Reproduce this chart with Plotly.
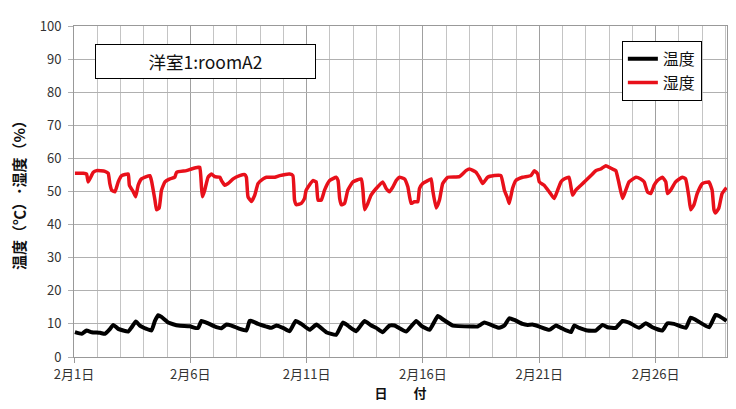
import plotly.graph_objects as go

# day offsets from 2月1日 00:00 (in days) and values
hum_day = [0.04, 0.40, 0.54, 0.61, 0.83, 0.97, 1.33, 1.47, 1.54, 1.62, 1.76, 1.90, 2.05, 2.33, 2.38, 2.55, 2.65, 2.76, 2.90,
           3.26, 3.33, 3.48, 3.55, 3.66, 3.76, 3.91, 4.12, 4.33, 4.41, 4.83, 5.05, 5.34, 5.41, 5.48, 5.52, 5.62, 5.76, 5.91,
           6.05, 6.27, 6.34, 6.48, 6.62, 6.84, 7.12, 7.34, 7.41, 7.48, 7.63, 7.77, 7.91, 8.13, 8.27, 8.63, 8.84, 9.27, 9.41,
           9.48, 9.56, 9.77, 9.91, 9.98, 10.27, 10.41, 10.49, 10.63, 10.77, 10.99, 11.27, 11.35, 11.42, 11.49, 11.63, 11.77,
           11.99, 12.35, 12.42, 12.49, 12.63, 12.77, 12.99, 13.27, 13.42, 13.56, 13.71, 13.85, 13.99, 14.21, 14.35, 14.49,
           14.63, 14.78, 14.85, 14.99, 15.21, 15.35, 15.42, 15.57, 15.71, 15.85, 16.07, 16.57, 16.85, 17.00, 17.28, 17.42,
           17.57, 17.78, 18.07, 18.35, 18.50, 18.64, 18.71, 18.85, 18.99, 19.28, 19.64, 19.79, 19.93, 20.00, 20.21, 20.43,
           20.64, 20.79, 20.93, 21.07, 21.28, 21.43, 21.57, 21.79, 22.00, 22.29, 22.43, 22.64, 22.86, 23.15, 23.29, 23.43,
           23.58, 23.72, 23.86, 24.15, 24.36, 24.51, 24.65, 24.79, 24.94, 25.08, 25.29, 25.44, 25.51, 25.65, 25.86, 26.15,
           26.29, 26.43, 26.51, 26.65, 26.79, 27.01, 27.29, 27.43, 27.51, 27.58, 27.72, 27.86, 28.05]
hum_val = [55.5, 55.5, 55.3, 52.9, 55.8, 56.3, 56.1, 55.5, 52.4, 50.4, 49.9, 52.9, 54.8, 55.3, 51.9, 49.9, 48.4, 51.9, 53.8,
           54.8, 53.3, 47.4, 44.5, 45.0, 50.4, 52.9, 53.8, 54.3, 55.8, 56.3, 56.8, 57.3, 57.3, 51.4, 48.4, 50.4, 54.3, 55.3,
           54.5, 54.3, 53.3, 51.9, 52.4, 53.8, 54.8, 55.1, 54.3, 48.4, 47.0, 48.9, 52.4, 53.8, 54.3, 54.3, 54.8, 55.3, 54.8,
           47.4, 46.0, 46.4, 47.9, 50.4, 53.3, 52.9, 47.4, 47.4, 50.4, 53.3, 54.3, 53.3, 47.9, 46.0, 46.4, 50.4,
           52.9, 53.8, 50.4, 44.5, 46.4, 48.9, 50.9, 52.9, 50.9, 49.9, 51.4, 53.3, 54.3, 53.8, 51.4, 46.4,
           46.9, 46.9, 50.9, 52.4, 53.3, 53.8, 50.4, 45.0, 47.4, 52.4, 54.3, 54.5, 56.3, 56.8, 55.8, 54.3,
           52.4, 54.3, 54.8, 54.8, 50.4, 47.9, 46.4, 50.9, 53.3, 54.3, 54.8, 56.3, 55.3, 52.9, 51.9, 49.9,
           47.9, 50.4, 52.9, 53.8, 54.3, 48.9, 50.4, 51.9, 53.3, 55.3, 56.3, 56.8, 57.8, 56.8, 56.3, 52.4,
           47.9, 50.4, 52.9, 54.3, 53.8, 52.9, 49.9, 49.4, 51.9, 53.3, 54.3, 52.9, 49.4, 50.4, 52.9, 54.3,
           53.8, 48.4, 44.5, 46.0, 49.4, 52.4, 52.9, 50.4, 44.5, 43.5, 45.0, 49.4, 51.2]

tmp_day = [0.04, 0.33, 0.54, 0.76, 1.12, 1.33, 1.55, 1.69, 1.90, 2.33, 2.48, 2.66, 2.83, 3.12, 3.33, 3.48, 3.62, 3.76,
           4.05, 4.48, 4.98, 5.19, 5.34, 5.48, 5.69, 6.12, 6.34, 6.55, 6.77, 7.12, 7.41, 7.55, 7.63, 7.91, 8.27, 8.48,
           8.70, 8.98, 9.27, 9.53, 9.77, 10.13, 10.42, 10.84, 11.27, 11.56, 11.77, 12.13, 12.49, 12.78, 12.99, 13.27,
           13.56, 13.78, 14.28, 14.71, 14.92, 15.28, 15.64, 15.85, 16.28, 17.14, 17.35, 17.64, 18.00, 18.28, 18.50,
           18.71, 18.93, 19.28, 19.50, 19.71, 20.00, 20.43, 20.72, 20.93, 21.36, 21.50, 21.72, 22.07, 22.43, 22.72,
           22.93, 23.29, 23.58, 23.86, 24.29, 24.58, 24.86, 25.29, 25.51, 25.79, 26.30, 26.51, 26.73, 27.30, 27.58,
           27.73, 28.05]
tmp_val = [7.5, 7.0, 8.0, 7.5, 7.3, 7.0, 8.5, 9.7, 8.5, 7.7, 9.0, 10.7, 9.5, 8.5, 8.0, 10.9, 12.6, 12.1,
           10.4, 9.5, 9.3, 8.8, 8.8, 10.9, 10.4, 9.0, 8.7, 9.8, 9.5, 8.5, 8.0, 10.9, 10.9, 10.0, 9.2, 8.8,
           9.5, 8.8, 7.8, 10.9, 10.0, 8.2, 9.8, 7.5, 6.7, 10.4, 9.5, 7.8, 10.9, 9.5, 8.8, 7.5,
           9.5, 9.5, 7.7, 10.9, 9.5, 8.2, 12.4, 11.4, 9.5, 9.2, 9.2, 10.4, 9.5, 8.8, 9.5,
           11.7, 11.2, 10.0, 9.7, 9.8, 9.2, 8.2, 9.5, 8.8, 7.5, 9.5, 8.8, 8.0, 8.0, 9.7,
           9.0, 8.8, 10.9, 10.4, 8.8, 10.2, 9.0, 8.0, 10.2, 10.0, 8.8, 11.9, 11.2, 9.0, 12.7,
           12.4, 10.9]

tick_days = [0, 5, 10, 15, 20, 25]
tick_text = ["2月1日", "2月6日", "2月11日", "2月16日", "2月21日", "2月26日"]
y_ticks = [0, 10, 20, 30, 40, 50, 60, 70, 80, 90, 100]

FONT = "Noto Sans CJK JP"

fig = go.Figure()
fig.add_trace(go.Scatter(x=tmp_day, y=tmp_val, mode="lines", name="温度",
                         line=dict(color="#000000", width=4, shape="spline", smoothing=0.4), legendgroup="a"))
fig.add_trace(go.Scatter(x=hum_day, y=hum_val, mode="lines", name="湿度",
                         line=dict(color="#e8101a", width=3.5, shape="spline", smoothing=0.4), legendgroup="b"))

fig.update_layout(
    width=728, height=401,
    margin=dict(l=66, r=8, t=12, b=52),
    paper_bgcolor="white", plot_bgcolor="white",
    font=dict(family=FONT, color="#333333", size=13),
    showlegend=True,
    legend=dict(x=0.839, y=0.955, xanchor="left", yanchor="top",
                bgcolor="white", bordercolor="#000000", borderwidth=1,
                font=dict(size=16, color="#111111", family=FONT),
                tracegroupgap=0, traceorder="grouped"),
    xaxis=dict(range=[0, 28.07], tickmode="array", tickvals=tick_days, ticktext=tick_text,
               showgrid=True, gridcolor="#a0a0a0", gridwidth=1,
               minor=dict(dtick=1, tick0=0, showgrid=True, gridcolor="#c4c4c4", gridwidth=1),
               ticks="outside", ticklen=5, tickcolor="#999999",
               showline=True, linecolor="#999999", linewidth=1, mirror=True,
               zeroline=False, tickfont=dict(size=13, color="#333333"),
               title=dict(text="日　　付", font=dict(size=13, color="#111111", family=FONT, weight="bold"), standoff=4)),
    yaxis=dict(range=[0, 100], tickvals=y_ticks,
               showgrid=True, gridcolor="#b0b0b0", gridwidth=1,
               ticks="outside", ticklen=5, tickcolor="#b0b0b0", ticklabelstandoff=4,
               showline=True, linecolor="#999999", linewidth=1, mirror=True,
               zeroline=False, tickfont=dict(size=13, color="#333333"),
               title=dict(text="温度（℃）･湿度（%）", font=dict(size=15, color="#111111", family=FONT, weight="bold"), standoff=10)),
    annotations=[dict(text="洋室1:roomA2", xref="paper", yref="paper", x=0.032, y=0.947,
                      xanchor="left", yanchor="top", showarrow=False,
                      width=217, height=31, bordercolor="#000000", borderwidth=1, borderpad=1,
                      bgcolor="white", font=dict(size=17.5, color="#111111", family=FONT))],
)

fig.write_html("out.html")
